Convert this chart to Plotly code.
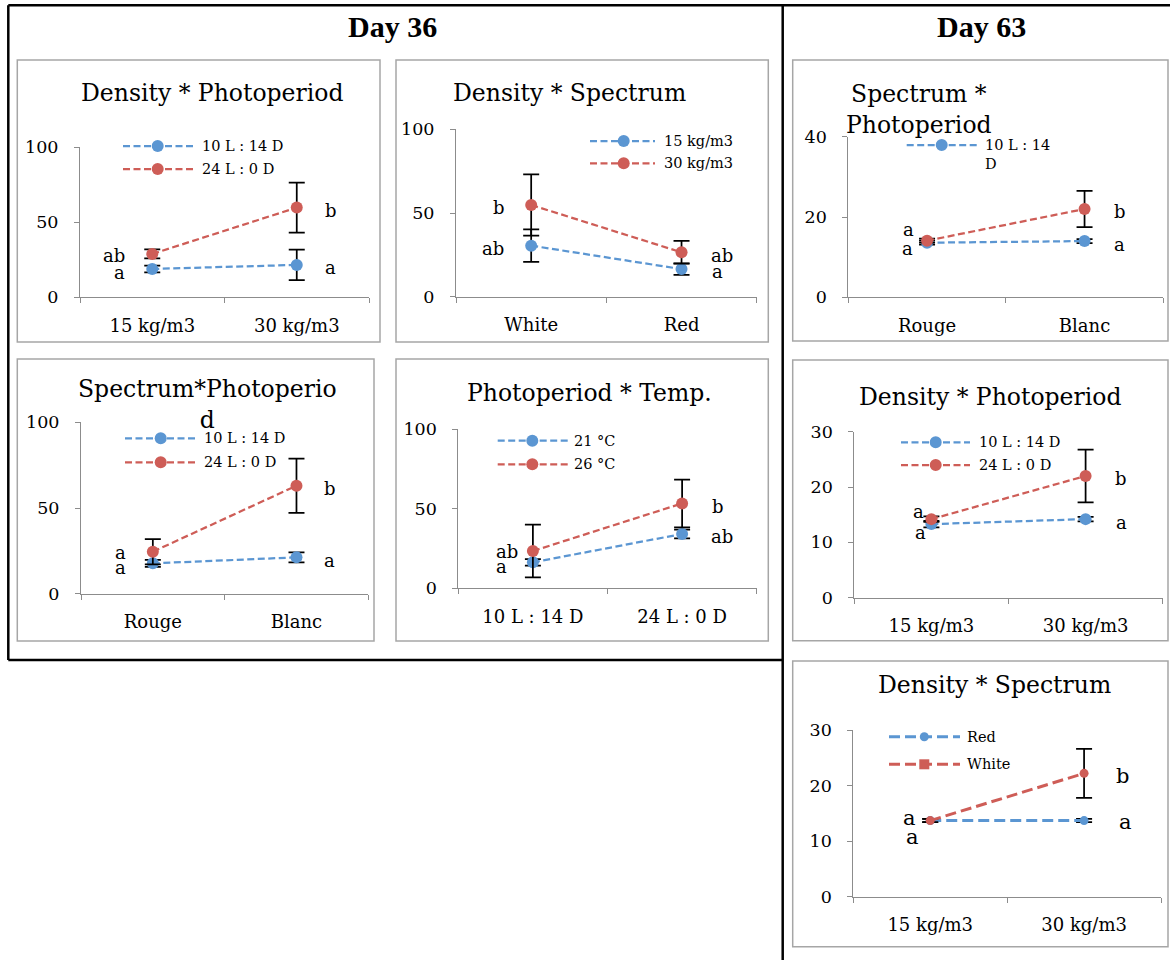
import plotly.graph_objects as go

W, H = 1170, 960

# ---------------- data ----------------
# Day 36 - Density * Photoperiod
d36_dp_cats = ["15 kg/m3", "30 kg/m3"]
d36_dp_names = ["10 L : 14 D", "24 L : 0 D"]
d36_dp_blue = [18.9, 21.6]
d36_dp_blue_err = [2.3, 10.2]
d36_dp_red = [28.9, 59.8]
d36_dp_red_err = [3.0, 16.7]
d36_dp_blue_letters = ["a", "a"]
d36_dp_red_letters = ["ab", "b"]

# Day 36 - Density * Spectrum
d36_ds_cats = ["White", "Red"]
d36_ds_names = ["15 kg/m3", "30 kg/m3"]
d36_ds_blue = [30.5, 16.5]
d36_ds_blue_err = [9.7, 3.4]
d36_ds_red = [54.8, 26.5]
d36_ds_red_err = [18.3, 6.8]
d36_ds_blue_letters = ["ab", "a"]
d36_ds_red_letters = ["b", "ab"]

# Day 36 - Spectrum * Photoperiod
d36_sp_cats = ["Rouge", "Blanc"]
d36_sp_names = ["10 L : 14 D", "24 L : 0 D"]
d36_sp_blue = [17.7, 21.2]
d36_sp_blue_err = [2.0, 2.9]
d36_sp_red = [24.5, 63.0]
d36_sp_red_err = [7.4, 15.8]
d36_sp_blue_letters = ["a", "a"]
d36_sp_red_letters = ["a", "b"]

# Day 36 - Photoperiod * Temp.
d36_pt_cats = ["10 L : 14 D", "24 L : 0 D"]
d36_pt_names = ["21 °C", "26 °C"]
d36_pt_blue = [16.3, 34.1]
d36_pt_blue_err = [2.0, 2.7]
d36_pt_red = [23.4, 53.3]
d36_pt_red_err = [16.5, 15.0]
d36_pt_blue_letters = ["a", "ab"]
d36_pt_red_letters = ["ab", "b"]

# Day 63 - Spectrum * Photoperiod
d63_sp_cats = ["Rouge", "Blanc"]
d63_sp_names = ["10 L : 14 D", "24 L : 0 D"]
d63_sp_blue = [13.6, 14.0]
d63_sp_blue_err = [0.5, 0.5]
d63_sp_red = [14.1, 22.0]
d63_sp_red_err = [0.5, 4.5]
d63_sp_blue_letters = ["a", "a"]
d63_sp_red_letters = ["a", "b"]

# Day 63 - Density * Photoperiod
d63_dp_cats = ["15 kg/m3", "30 kg/m3"]
d63_dp_names = ["10 L : 14 D", "24 L : 0 D"]
d63_dp_blue = [13.3, 14.2]
d63_dp_blue_err = [0.6, 0.4]
d63_dp_red = [14.2, 22.0]
d63_dp_red_err = [0.5, 4.75]
d63_dp_blue_letters = ["a", "a"]
d63_dp_red_letters = ["a", "b"]

# Day 63 - Density * Spectrum
d63_ds_cats = ["15 kg/m3", "30 kg/m3"]
d63_ds_names = ["Red", "White"]
d63_ds_blue = [13.7, 13.7]
d63_ds_blue_err = [0.3, 0.3]
d63_ds_red = [13.7, 22.2]
d63_ds_red_err = [0.3, 4.4]
d63_ds_blue_letters = ["a", "a"]
d63_ds_red_letters = ["a", "b"]

day_titles = ["Day 36", "Day 63"]

# y-axis scales
yticks_100 = [0, 50, 100]
yticks_40 = [0, 20, 40]
yticks_30 = [0, 10, 20, 30]

# ---------------- styling / layout ----------------
BLUE = "#5B96D2"
RED = "#CE5D57"
AXIS = "#8C8C8C"
FRAME = "#A6A6A6"
FONT = "DejaVu Serif"


def px(x):
    return x / W


def py(y):
    return 1 - y / H


panels = [
    dict(cats=d36_dp_cats, names=d36_dp_names,
         blue=(d36_dp_blue, d36_dp_blue_err, d36_dp_blue_letters),
         red=(d36_dp_red, d36_dp_red_err, d36_dp_red_letters),
         yticks=yticks_100,
         xpx=(80, 369), ypx=(297.3, 147.3),
         frame=(17.3, 60, 380, 342),
         title="Density * Photoperiod", tpos=(211.5, 93),
         leg=dict(line=(123, 193), mk=157.7, tx=200, rows=(146, 169), n=2),
         offs=dict(blue=[(-25, -4), (26, -3)], red=[(-25, -2), (26, -3)]),
         msize=12, dash="7px,3.5px", lw=2.25, lfs=18),
    dict(cats=d36_ds_cats, names=d36_ds_names,
         blue=(d36_ds_blue, d36_ds_blue_err, d36_ds_blue_letters),
         red=(d36_ds_red, d36_ds_red_err, d36_ds_red_letters),
         yticks=yticks_100,
         xpx=(456, 756.7), ypx=(296.7, 129.3),
         frame=(396, 60, 768.3, 342),
         title="Density * Spectrum", tpos=(569.7, 93.3),
         leg=dict(line=(590, 655), mk=623.7, tx=661.7, rows=(141, 163.3), n=2),
         offs=dict(blue=[(-25, -3), (28, -2)], red=[(-24, -3), (27, -3)]),
         msize=12, dash="7px,3.5px", lw=2.25, lfs=18),
    dict(cats=d36_sp_cats, names=d36_sp_names,
         blue=(d36_sp_blue, d36_sp_blue_err, d36_sp_blue_letters),
         red=(d36_sp_red, d36_sp_red_err, d36_sp_red_letters),
         yticks=yticks_100,
         xpx=(81, 368.3), ypx=(593.7, 422.3),
         frame=(17.3, 359, 374, 641),
         title="Spectrum*Photoperio<br>d", tpos=(207.5, 404.2),
         leg=dict(line=(125, 195), mk=160.7, tx=201.7, rows=(438.3, 462.3), n=2),
         offs=dict(blue=[(-25, -4), (26, -3)], red=[(-25, -1), (26, -3)]),
         msize=12, dash="7px,3.5px", lw=2.25, lfs=18),
    dict(cats=d36_pt_cats, names=d36_pt_names,
         blue=(d36_pt_blue, d36_pt_blue_err, d36_pt_blue_letters),
         red=(d36_pt_red, d36_pt_red_err, d36_pt_red_letters),
         yticks=yticks_100,
         xpx=(458.3, 756.7), ypx=(588.3, 429),
         frame=(396, 359, 768.3, 641),
         title="Photoperiod * Temp.", tpos=(589.2, 393.3),
         leg=dict(line=(497.7, 568.3), mk=532.3, tx=571.7, rows=(440.7, 464.3), n=2),
         offs=dict(blue=[(-24, -4), (27, -3)], red=[(-13, 0), (28, -3)]),
         msize=12, dash="7px,3.5px", lw=2.25, lfs=18),
    dict(cats=d63_sp_cats, names=d63_sp_names,
         blue=(d63_sp_blue, d63_sp_blue_err, d63_sp_blue_letters),
         red=(d63_sp_red, d63_sp_red_err, d63_sp_red_letters),
         yticks=yticks_40,
         xpx=(848.3, 1163.3), ypx=(297.3, 136.7),
         frame=(792.7, 60, 1168, 341),
         title="Spectrum *<br>Photoperiod", tpos=(919, 109.2),
         leg=dict(line=(906.7, 976.7), mk=941.7, tx=983.3, rows=(145,), n=1,
                  labels=["10 L : 14<br>D"]),
         offs=dict(blue=[(-12, -6), (27, -3)], red=[(-11, 11), (27, -3)]),
         msize=12, dash="7px,3.5px", lw=2.25, lfs=18),
    dict(cats=d63_dp_cats, names=d63_dp_names,
         blue=(d63_dp_blue, d63_dp_blue_err, d63_dp_blue_letters),
         red=(d63_dp_red, d63_dp_red_err, d63_dp_red_letters),
         yticks=yticks_30,
         xpx=(854.3, 1162.7), ypx=(597.7, 431.7),
         frame=(792.7, 360, 1168, 640.7),
         title="Density * Photoperiod", tpos=(990, 396.7),
         leg=dict(line=(901, 970), mk=935.7, tx=976.7, rows=(442.3, 465), n=2),
         offs=dict(blue=[(-3.5, -8), (28, -3)], red=[(-5, 8), (27, -3)]),
         msize=12, dash="7px,3.5px", lw=2.25, lfs=18),
    dict(cats=d63_ds_cats, names=d63_ds_names,
         blue=(d63_ds_blue, d63_ds_blue_err, d63_ds_blue_letters),
         red=(d63_ds_red, d63_ds_red_err, d63_ds_red_letters),
         yticks=yticks_30,
         xpx=(853.3, 1161), ypx=(896.7, 730),
         frame=(792.7, 661, 1168, 946.7),
         title="Density * Spectrum", tpos=(994.2, 685),
         leg=dict(line=(889, 960), mk=924.3, tx=965, rows=(736.7, 764.3), n=2,
                  square=True),
         offs=dict(blue=[(-9, -16), (33, -1)], red=[(-12, 3), (30, -3)]),
         msize=9, dash="11px,5px", lw=3, lfs=21),
]

fig = go.Figure()
shapes = []
annotations = []
layout_axes = {}

for i, p in enumerate(panels, start=1):
    xa = "x" if i == 1 else f"x{i}"
    ya = "y" if i == 1 else f"y{i}"
    xkey = "xaxis" if i == 1 else f"xaxis{i}"
    ykey = "yaxis" if i == 1 else f"yaxis{i}"

    for key, color in (("blue", BLUE), ("red", RED)):
        vals, errs, letters = p[key]
        name = p["names"][0 if key == "blue" else 1]
        fig.add_trace(go.Scatter(
            x=p["cats"], y=vals, name=name, mode="lines+markers",
            line=dict(color=color, width=p["lw"], dash=p["dash"]),
            marker=dict(color=color, size=p["msize"], line=dict(width=0)),
            error_y=dict(type="data", array=errs, visible=True,
                         color="black", thickness=1.75, width=8),
            xaxis=xa, yaxis=ya, showlegend=False, cliponaxis=False,
        ))
        for j, (cat, v, let) in enumerate(zip(p["cats"], vals, letters)):
            dx, dy = p["offs"][key][j]
            annotations.append(dict(
                x=cat, y=v, xref=xa, yref=ya, text=let, showarrow=False,
                xanchor="right" if dx < 0 else "left", yanchor="middle",
                xshift=dx, yshift=dy,
                font=dict(family=FONT, size=p["lfs"], color="black"),
            ))

    x0, x1 = p["xpx"]
    y0, y1 = p["ypx"]
    layout_axes[xkey] = dict(
        domain=[px(x0), px(x1)], anchor=ya, type="category",
        tickson="boundaries", ticks="outside", ticklen=5, tickwidth=1,
        tickcolor=AXIS, showline=True, linecolor=AXIS, linewidth=1,
        showgrid=False, zeroline=False, range=[-0.5, 1.5],
        tickfont=dict(family=FONT, size=18, color="black"),
        ticklabelstandoff=12, fixedrange=True, automargin=False,
    )
    layout_axes[ykey] = dict(
        domain=[py(y0), py(y1)], anchor=xa, range=[0, p["yticks"][-1]],
        tickmode="array", tickvals=p["yticks"], ticks="outside", ticklen=5,
        tickwidth=1, tickcolor=AXIS, showline=True, linecolor=AXIS,
        linewidth=1, showgrid=False, zeroline=False,
        tickfont=dict(family=FONT, size=17.5, color="black"),
        ticklabelstandoff=12, fixedrange=True, automargin=False,
    )

    # panel frame
    fx0, fy0, fx1, fy1 = p["frame"]
    shapes.append(dict(type="rect", xref="paper", yref="paper",
                       x0=px(fx0), x1=px(fx1), y0=py(fy1), y1=py(fy0),
                       line=dict(color=FRAME, width=1.5), layer="below"))

    # panel title
    tx, ty = p["tpos"]
    annotations.append(dict(x=px(tx), y=py(ty), xref="paper", yref="paper",
                            text=p["title"], showarrow=False,
                            xanchor="center", yanchor="middle",
                            font=dict(family=FONT, size=23.5, color="black")))

    # legend (keys drawn in paper coordinates)
    lg = p["leg"]
    labels = lg.get("labels", p["names"])
    for r in range(lg["n"]):
        color = BLUE if r == 0 else RED
        ry = lg["rows"][r]
        shapes.append(dict(type="line", xref="paper", yref="paper",
                           x0=px(lg["line"][0]), x1=px(lg["line"][1]),
                           y0=py(ry), y1=py(ry),
                           line=dict(color=color, width=p["lw"], dash=p["dash"])))
        if lg.get("square") and r == 1:
            h = 5
            shapes.append(dict(type="rect", xref="paper", yref="paper",
                               x0=px(lg["mk"] - h), x1=px(lg["mk"] + h),
                               y0=py(ry + h), y1=py(ry - h),
                               fillcolor=color, line=dict(width=0)))
        else:
            h = p["msize"] / 2
            shapes.append(dict(type="circle", xref="paper", yref="paper",
                               x0=px(lg["mk"] - h), x1=px(lg["mk"] + h),
                               y0=py(ry + h), y1=py(ry - h),
                               fillcolor=color, line=dict(width=0)))
        wrapped = "<br>" in labels[r]
        annotations.append(dict(x=px(lg["tx"]), y=py(ry), xref="paper",
                                yref="paper", text=labels[r], showarrow=False,
                                xanchor="left",
                                yanchor="top" if wrapped else "middle",
                                yshift=10 if wrapped else 0,
                                align="left",
                                font=dict(family=FONT, size=14.5, color="black")))

# outer black frames
for (ax0, ay0, ax1, ay1) in [(8.3, 5.3, 1170, 5.3), (8.3, 5.3, 8.3, 660),
                             (8.3, 660, 782.7, 660), (782.7, 5.3, 782.7, 960)]:
    shapes.append(dict(type="line", xref="paper", yref="paper",
                       x0=px(ax0), x1=px(ax1), y0=py(ay0), y1=py(ay1),
                       line=dict(color="black", width=2.5)))

# day titles
for text, (tx, ty) in zip(day_titles, [(393, 27), (981, 27)]):
    annotations.append(dict(x=px(tx), y=py(ty), xref="paper", yref="paper",
                            text=f"<b>{text}</b>", showarrow=False,
                            xanchor="center", yanchor="middle",
                            font=dict(family="Liberation Serif", size=30,
                                      color="black")))

fig.update_layout(
    width=W, height=H, autosize=False,
    margin=dict(l=0, r=0, t=0, b=0, pad=0, autoexpand=False),
    paper_bgcolor="white", plot_bgcolor="white", showlegend=False,
    shapes=shapes, annotations=annotations, **layout_axes,
)

# let the 1170x960 figure sit flush in the 1170x960 window
fig.write_html(
    "out.html",
    config={"displayModeBar": False, "responsive": False},
    post_script="document.body.style.margin='0';"
                "document.body.style.overflow='hidden';",
)
